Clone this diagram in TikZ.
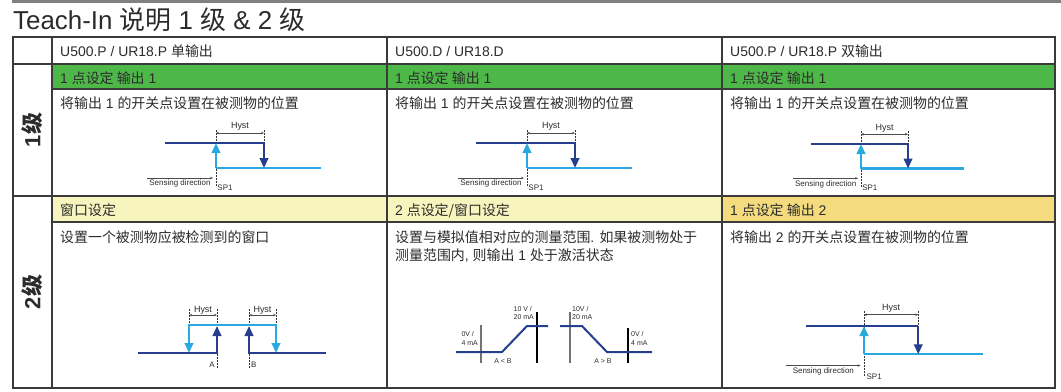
\documentclass[tikz,border=0pt]{standalone}
\usepackage{fontspec}
\setmainfont{Liberation Sans}
\newfontfamily\cjk{Noto Sans CJK SC}
\usetikzlibrary{arrows.meta}
\definecolor{tablegray}{HTML}{3A3A3A}
\definecolor{txtgray}{HTML}{2B2B2B}
\definecolor{okgreen}{HTML}{4DB748}
\definecolor{paleyellow}{HTML}{F8F4BE}
\definecolor{deepyellow}{HTML}{F4DC7E}
\definecolor{darkblue}{HTML}{263E8E}
\definecolor{lightblue}{HTML}{2AA8E0}
\newcommand{\zh}[1]{{\cjk #1}}
\tikzstyle{tableline} = [draw=tablegray, line width=1.4bp]
\tikzstyle{cell} = [anchor=base west, inner sep=0pt, text=txtgray, font=\fontsize{14}{18}\selectfont]
\tikzstyle{darkline} = [draw=darkblue, line width=2.4bp]
\tikzstyle{lightline} = [draw=lightblue, line width=2.4bp]
\tikzstyle{arrow} = [-{Triangle[length=10bp,width=8.5bp]}]
\tikzstyle{dimline} = [draw=black!70, line width=0.5bp, {Stealth[length=3bp,width=2.5bp]}-{Stealth[length=3bp,width=2.5bp]}]
\tikzstyle{dirline} = [draw=black!70, line width=0.5bp, -{Stealth[length=3bp,width=2.5bp]}]
\tikzstyle{guide} = [draw=black!80, line width=0.6bp, dash pattern=on 1.5bp off 1.5bp]
\tikzstyle{smalltxt} = [inner sep=1pt, text=txtgray, font=\fontsize{8}{9}\selectfont]
\tikzstyle{hysttxt} = [inner sep=1pt, text=txtgray, font=\fontsize{9}{10}\selectfont]
\tikzstyle{tinytxt} = [inner sep=1pt, text=txtgray, font=\fontsize{7}{9}\selectfont, align=left]
% switch point with hysteresis
\newcommand{\spchart}[3]{%
\begin{scope}[shift={(#1,#2)}, scale=#3]
    \draw [guide] (0,-13) -- (0,44);
    \draw [guide] (48,-13) -- (48,0);
    \draw [lightline] (0,25) -- (105,25);
    \draw [darkline] (-51,0) -- (48,0);
    \draw [darkline, arrow] (48,0) -- (48,25);
    \draw [lightline, arrow] (0,25) -- (0,0);
    \draw [dimline] (0,-10) -- (48,-10);
    \node [hysttxt, above] at (24,-11) {Hyst};
    \draw [dirline] (-69,35) -- (-3,35);
    \node [smalltxt, below] at (-36,36) {Sensing direction};
    \node [smalltxt] at (9,45) {SP1};
\end{scope}}

\begin{document}
\begin{tikzpicture}[x=1bp, y=-1bp]
    \useasboundingbox (0,0) rectangle (1061,391);
    \fill [black!50] (12,0) rectangle (1061,2.6);
    \node [anchor=base west, inner sep=0pt, text=txtgray, font=\fontsize{26}{30}\selectfont] at (13,29) (title) {Teach-In \zh{说明} 1 \zh{级} \& 2 \zh{级}};

    % table
    \fill [okgreen] (52,64) rectangle (1055,89);
    \fill [paleyellow] (52,196) rectangle (722,222);
    \fill [deepyellow] (722,196) rectangle (1055,222);
    \draw [tableline] (13,37) rectangle (1055,388);
    \draw [tableline] (13,64) -- (1055,64);
    \draw [tableline] (52,89) -- (1055,89);
    \draw [tableline] (13,196) -- (1055,196);
    \draw [tableline] (52,222) -- (1055,222);
    \foreach \x in {52,387,722}
        \draw [tableline] (\x,37) -- (\x,388);

    \node [rotate=90, inner sep=0pt, text=txtgray, font=\fontsize{22}{26}\selectfont\bfseries] at (32,130) (lvl1) {1\zh{级}};
    \node [rotate=90, inner sep=0pt, text=txtgray, font=\fontsize{22}{26}\selectfont\bfseries] at (32,292) (lvl2) {2\zh{级}};

    \node [cell] at (60,56) (head1) {U500.P / UR18.P \zh{单输出}};
    \node [cell] at (395,56) (head2) {U500.D / UR18.D};
    \node [cell] at (730,56) (head3) {U500.P / UR18.P \zh{双输出}};
    \foreach \x/\n in {60/a,395/b,730/c} {
        \node [cell] at (\x,83) (green\n) {1 \zh{点设定 输出} 1};
        \node [cell] at (\x,108) (text\n) {\zh{将输出} 1 \zh{的开关点设置在被测物的位置}};
    }
    \node [cell] at (60,215) (yellowa) {\zh{窗口设定}};
    \node [cell] at (395,215) (yellowb) {2 \zh{点设定/窗口设定}};
    \node [cell] at (730,215) (yellowc) {1 \zh{点设定 输出} 2};
    \node [cell] at (60,242) (windowtext) {\zh{设置一个被测物应被检测到的窗口}};
    \node [cell] at (395,242) (rangetext) {\zh{设置与模拟值相对应的测量范围}. \zh{如果被测物处于}};
    \node [cell] at (395,260) (rangetext2) {\zh{测量范围内}, \zh{则输出} 1 \zh{处于激活状态}};
    \node [cell] at (730,242) (outtwotext) {\zh{将输出} 2 \zh{的开关点设置在被测物的位置}};

    % switch point charts
    \spchart{216}{143}{1}
    \spchart{527}{143}{1}
    \spchart{861}{144}{0.98}
    \spchart{864}{326}{1.13}

    % window chart
    \draw [guide] (189,309) -- (189,325);
    \draw [guide] (217,309) -- (217,368);
    \draw [guide] (249,309) -- (249,368);
    \draw [guide] (276,309) -- (276,325);
    \draw [lightline, {Triangle[length=10bp,width=8.5bp]}-{Triangle[length=10bp,width=8.5bp]}] (189,353) -- (189,325) -- (276,325) -- (276,353);
    \draw [darkline, arrow] (138,353) -- (217,353) -- (217,326);
    \draw [darkline, arrow] (326,353) -- (249,353) -- (249,326);
    \draw [dimline] (189,315) -- (217,315);
    \draw [dimline] (249,315) -- (276,315);
    \node [hysttxt, above] at (203,316) (hysta) {Hyst};
    \node [hysttxt, above] at (262.5,316) (hystb) {Hyst};
    \node [smalltxt, anchor=east] at (216,365) (pointa) {A};
    \node [smalltxt, anchor=west] at (250,365) (pointb) {B};

    % analog charts
    \draw [black!55, line width=1.2bp] (481,325) -- (481,363);
    \draw [black, line width=1.2bp] (537,312) -- (537,363);
    \draw [darkline, line width=2bp] (456,352) -- (502,352) -- (527,326) -- (548,326);
    \node [tinytxt, anchor=east] at (479,338) (lowa) {0V /\\4 mA};
    \node [tinytxt, anchor=east] at (535,313) (higha) {10 V /\\20 mA};
    \node [tinytxt] at (503,361) (alessb) {A < B};
    \draw [black!55, line width=1.2bp] (570,312) -- (570,363);
    \draw [black, line width=1.2bp] (628,328) -- (628,363);
    \draw [darkline, line width=2bp] (560,326) -- (582,326) -- (607,352) -- (652,352);
    \node [tinytxt, anchor=west] at (571,313) (highb) {10V /\\20 mA};
    \node [tinytxt, anchor=west] at (630,338) (lowb) {0V /\\4 mA};
    \node [tinytxt] at (603,361) (amoreb) {A > B};
\end{tikzpicture}
\end{document}
